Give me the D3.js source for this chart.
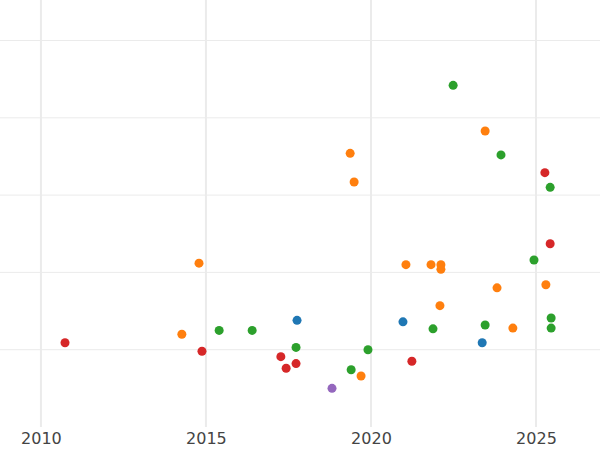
<!DOCTYPE html>
<html><head><meta charset="utf-8">
<script src="https://cdn.jsdelivr.net/npm/d3@7"></script>
<style>body{margin:0;background:#fff}</style></head>
<body><svg id="c" width="600" height="450"></svg>
<script>
const years = [2022.49,2023.46,2023.94,2019.37,2019.49,2025.27,2025.43,2025.43,2014.79,2021.06,2021.82,2022.12,2022.12,2024.94,2023.82,2025.30,2022.09,2017.76,2020.97,2025.46,2025.46,2023.46,2024.30,2021.88,2015.40,2016.40,2014.27,2010.73,2023.37,2017.73,2014.88,2019.91,2017.27,2021.24,2017.73,2017.43,2019.40,2019.70,2018.82];
const values = [4.42,3.83,3.52,3.54,3.17,3.29,3.10,2.37,2.12,2.10,2.10,2.10,2.04,2.16,1.80,1.84,1.57,1.38,1.36,1.41,1.28,1.32,1.28,1.27,1.25,1.25,1.20,1.09,1.09,1.03,0.98,1.00,0.91,0.85,0.82,0.76,0.74,0.66,0.50];
const groups = ["g","o","g","o","o","r","g","r","o","o","o","o","o","g","o","o","o","b","b","g","g","g","o","g","g","g","o","r","b","g","r","g","r","r","r","r","g","o","p"];
const xTicks = [2010,2015,2020,2025];
const yGrid = [1,2,3,4,5];
const colors = {b:"#1f77b4",o:"#ff7f0e",g:"#2ca02c",r:"#d62728",p:"#9467bd"};
const svg = d3.select("#c");
const x = d3.scaleLinear().domain([2008.76,2026.94]).range([0,600]);
const y = d3.scaleLinear().domain([0,5.524]).range([427,0]);
svg.append("g").selectAll("line").data(yGrid).join("line")
  .attr("x1",0).attr("x2",600).attr("y1",d=>y(d)).attr("y2",d=>y(d))
  .attr("stroke","#ebebeb").attr("stroke-width",1);
svg.append("g").selectAll("line").data(xTicks).join("line")
  .attr("y1",0).attr("y2",427).attr("x1",d=>x(d)).attr("x2",d=>x(d))
  .attr("stroke","#ebebeb").attr("stroke-width",2);
const ax = svg.append("g").attr("transform","translate(0,427)")
  .call(d3.axisBottom(x).tickValues(xTicks).tickFormat(d3.format("d")).tickSize(0).tickPadding(6));
ax.select(".domain").remove();
ax.selectAll("text").attr("font-family","DejaVu Sans").attr("font-size",16).attr("fill","#444");
svg.append("g").selectAll("circle").data(years).join("circle")
  .attr("cx",d=>x(d)).attr("cy",(d,i)=>y(values[i])).attr("r",4.5)
  .attr("fill",(d,i)=>colors[groups[i]]);
</script></body></html>
